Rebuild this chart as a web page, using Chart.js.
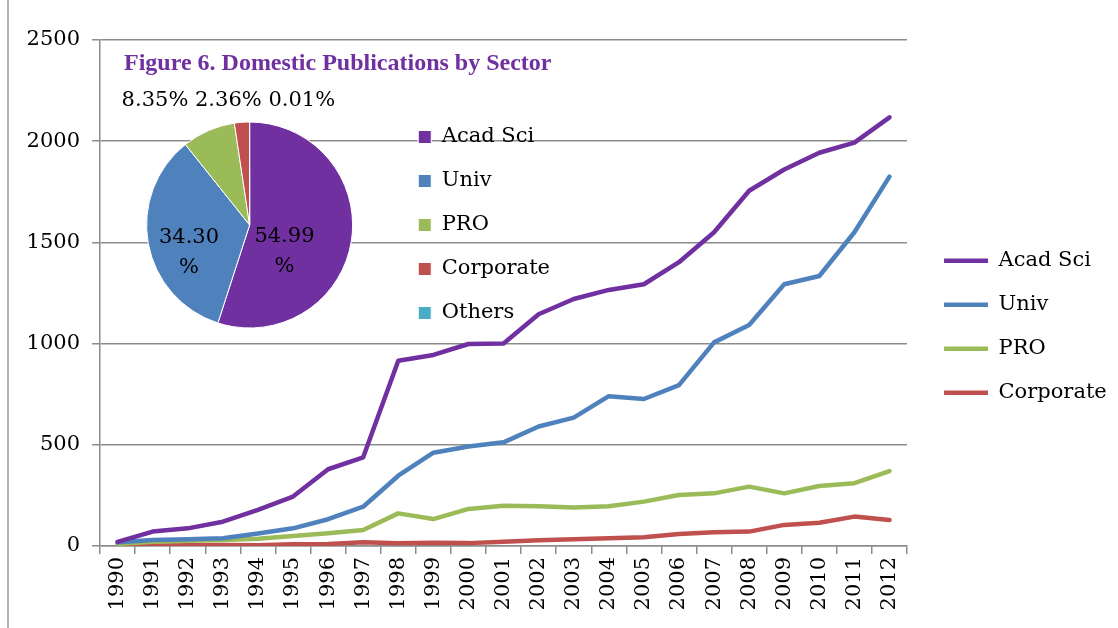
<!DOCTYPE html>
<html>
<head>
<meta charset="utf-8">
<script src="https://cdn.jsdelivr.net/npm/chart.js@4.4.0/dist/chart.umd.min.js"></script>
<style>
  html, body { margin: 0; padding: 0; background: #fff; }
  #wrap { position: relative; width: 1118px; height: 628px; overflow: hidden; }
  #frame { position: absolute; left: 7px; top: 0; width: 2px; height: 628px; background: #b4b4b4; }
  #lineChart { position: absolute; left: 0; top: 0; }
  #pieChart { position: absolute; left: 104px; top: 44px; }
</style>
</head>
<body>
<div id="wrap">
  <div id="frame"></div>
  <canvas id="lineChart" width="1118" height="628"></canvas>
  <canvas id="pieChart" width="456" height="312"></canvas>
</div>
<script>
// data
const years = ['1990','1991','1992','1993','1994','1995','1996','1997','1998','1999','2000',
               '2001','2002','2003','2004','2005','2006','2007','2008','2009','2010','2011','2012'];
const acadSci   = [20, 71, 87, 120, 178, 244, 379, 438, 915, 944, 998, 1000, 1145, 1220, 1265, 1293, 1402, 1550, 1755, 1860, 1943, 1993, 2118];
const univ      = [18, 30, 33, 38, 62, 87, 132, 194, 347, 461, 491, 512, 590, 634, 740, 726, 795, 1006, 1092, 1293, 1334, 1550, 1825];
const pro       = [10, 21, 26, 30, 36, 49, 63, 79, 161, 133, 183, 199, 196, 190, 196, 219, 252, 260, 293, 260, 296, 310, 370];
const corporate = [0, 2, 3, 5, 3, 8, 10, 18, 13, 16, 14, 21, 28, 33, 38, 43, 59, 68, 71, 104, 115, 145, 128];
const yTicks = [0, 500, 1000, 1500, 2000, 2500];

const sectors = ['Acad Sci', 'Univ', 'PRO', 'Corporate', 'Others'];
const shares  = [54.99, 34.30, 8.35, 2.36, 0.01];

const colors = ['#7030A0', '#4F81BD', '#9BBB59', '#C0504D', '#4BACC6'];
const gridColor = '#8c8c8c';
const serif = 'DejaVu Serif';

Chart.defaults.font.family = serif;
Chart.defaults.color = '#000';

// 1. line chart
function lineSet(label, data, color) {
    return {
        label: label,
        data: data,
        borderColor: color,
        backgroundColor: color,
        borderWidth: 4.5,
        borderCapStyle: 'round',
        borderJoinStyle: 'round',
        pointRadius: 0,
        tension: 0
    };
}

new Chart(document.getElementById('lineChart'), {
    type: 'line',
    data: {
        labels: years,
        datasets: [
            lineSet('Acad Sci', acadSci, colors[0]),
            lineSet('Univ', univ, colors[1]),
            lineSet('PRO', pro, colors[2]),
            lineSet('Corporate', corporate, colors[3])
        ]
    },
    options: {
        responsive: false,
        animation: false,
        layout: { padding: { left: 14.6, top: 40, right: 1.2, bottom: 14.6 } },
        scales: {
            x: {
                offset: true,
                grid: { display: true, drawOnChartArea: false, drawTicks: true, tickLength: 8, color: gridColor, lineWidth: 1.5, offset: true },
                border: { display: true, color: gridColor, width: 1.5 },
                ticks: { autoSkip: false, minRotation: 90, maxRotation: 90, padding: 3, font: { size: 21 }, color: '#000' }
            },
            y: {
                min: 0, max: 2500,
                afterBuildTicks: s => { s.ticks = yTicks.map(v => ({ value: v })); },
                grid: { color: gridColor, lineWidth: 1.5, tickLength: 8 },
                border: { display: true, color: gridColor, width: 1.5 },
                ticks: { padding: 12, font: { size: 21 }, color: '#000', callback: v => String(v) }
            },
            gap: {
                type: 'linear', position: 'right', display: true,
                grid: { display: false }, border: { display: false }, ticks: { display: false },
                afterFit: s => { s.width = 14; }
            }
        },
        plugins: {
            legend: {
                position: 'right',
                maxWidth: 230,
                labels: {
                    usePointStyle: true,
                    pointStyle: 'line',
                    pointStyleWidth: 44,
                    padding: 23,
                    font: { size: 21 },
                    color: '#000'
                }
            },
            tooltip: { enabled: false }
        }
    }
});

// 2. inset pie with percentage labels
const pieLabels = {
    id: 'pieLabels',
    afterDatasetsDraw(chart) {
        const ctx = chart.ctx;
        const arcs = chart.getDatasetMeta(0).data;
        const values = chart.data.datasets[0].data;
        ctx.save();
        ctx.font = '21px "' + serif + '"';
        ctx.fillStyle = '#000';
        ctx.textBaseline = 'middle';
        const outside = [];
        arcs.forEach((arc, i) => {
            const p = arc.getProps(['x', 'y', 'startAngle', 'endAngle', 'outerRadius'], true);
            const txt = values[i].toFixed(2);
            if (values[i] >= 10) {
                const mid = (p.startAngle + p.endAngle) / 2;
                const r = p.outerRadius * 0.47;
                const cx = p.x + Math.cos(mid) * r - 13;
                const cy = p.y + Math.sin(mid) * r + 19;
                ctx.textAlign = 'center';
                ctx.fillText(txt, cx, cy - 15);
                ctx.fillText('%', cx, cy + 15);
            } else {
                outside.push(txt + '%');
            }
        });
        if (outside.length) {
            const p = arcs[0].getProps(['x', 'y', 'outerRadius'], true);
            ctx.textAlign = 'left';
            ctx.fillText(outside.join(' '), p.x - 128, p.y - p.outerRadius - 21);
        }
        ctx.restore();
    }
};

new Chart(document.getElementById('pieChart'), {
    type: 'pie',
    data: {
        labels: sectors,
        datasets: [{
            data: shares,
            backgroundColor: colors,
            borderColor: '#ffffff',
            borderWidth: 1
        }]
    },
    options: {
        responsive: false,
        animation: false,
        radius: 103,
        layout: { padding: { left: 20, top: 0, right: 0, bottom: 6 } },
        scales: {
            gap: {
                type: 'linear', position: 'right', display: true,
                grid: { display: false }, border: { display: false }, ticks: { display: false },
                afterFit: s => { s.width = 20; }
            }
        },
        plugins: {
            title: {
                display: true,
                text: 'Figure 6. Domestic Publications by Sector',
                align: 'start',
                color: '#7030A0',
                font: { family: 'Liberation Serif', size: 24, weight: 'bold' },
                padding: { top: 5.6, bottom: 21.6 }
            },
            legend: {
                position: 'right',
                fullSize: false,
                maxWidth: 220,
                labels: {
                    boxWidth: 13,
                    boxHeight: 13,
                    padding: 23,
                    font: { size: 21 },
                    color: '#000'
                }
            },
            tooltip: { enabled: false }
        }
    },
    plugins: [pieLabels]
});
</script>
</body>
</html>
